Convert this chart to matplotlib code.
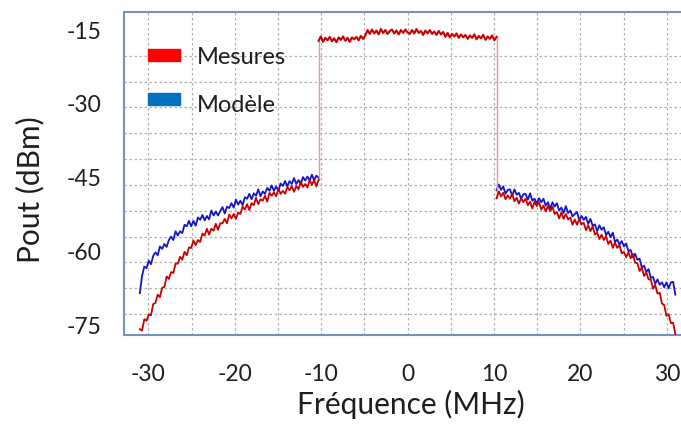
import numpy as np
import matplotlib
matplotlib.use("Agg")
import matplotlib.pyplot as plt
from matplotlib.patches import Rectangle
from matplotlib.ticker import FixedLocator, MultipleLocator

plt.rcParams['font.family'] = ['Lato', 'DejaVu Sans']

# ---------------- data ----------------
freq_left = np.linspace(-31.0, -10.3, 81)   # lower adjacent band (MHz)
freq_band = np.linspace(-10.3, 10.3, 81)    # channel (MHz)
freq_right = np.linspace(10.3, 31.0, 81)    # upper adjacent band (MHz)

mesures_left = [
    -75.8, -76.1, -73.8, -74.1, -72.8, -73.0, -70.7, -70.5, -68.8, -69.3,
    -67.4, -67.2, -65.1, -65.6, -64.2, -64.4, -62.5, -62.5, -61.1, -61.7,
    -60.1, -60.8, -59.2, -59.3, -57.8, -58.7, -57.7, -58.1, -56.4, -56.8,
    -55.4, -56.6, -55.4, -55.8, -54.4, -55.6, -54.3, -54.3, -53.4, -54.3,
    -52.5, -53.3, -52.4, -53.4, -52.1, -52.4, -50.9, -51.5, -50.4, -51.6,
    -50.2, -50.6, -49.1, -50.4, -49.4, -49.7, -48.7, -49.9, -48.1, -48.7,
    -48.0, -48.8, -47.3, -48.3, -47.7, -48.3, -46.9, -47.6, -46.7, -47.9,
    -46.7, -47.4, -45.8, -46.9, -46.3, -47.0, -45.5, -46.5, -45.5, -46.8,
    -45.4]

mesures_band = [
    -17.2, -16.3, -17.4, -16.6, -17.1, -16.4, -17.3, -16.7, -17.5, -16.5,
    -17.0, -16.3, -17.2, -16.6, -17.4, -16.5, -16.9, -16.4, -17.1, -16.2,
    -16.8, -16.1, -15.0, -15.8, -14.9, -15.7, -15.1, -15.9, -14.8, -15.6,
    -15.0, -15.8, -15.2, -14.9, -15.7, -15.1, -15.9, -15.0, -15.6, -14.9,
    -15.5, -15.8, -15.0, -15.7, -14.8, -15.6, -15.2, -16.0, -15.1, -15.7,
    -15.0, -15.8, -15.3, -16.0, -15.2, -15.9, -15.4, -16.4, -15.6, -16.5,
    -15.8, -16.3, -15.7, -16.6, -15.9, -16.5, -16.0, -16.8, -16.1, -16.6,
    -15.9, -16.9, -16.2, -16.7, -16.0, -17.0, -16.3, -16.8, -16.1, -17.1,
    -16.4]

mesures_right = [
    -49.2, -47.8, -48.8, -48.1, -49.4, -48.6, -49.3, -48.3, -49.8, -49.1,
    -50.3, -49.2, -50.0, -49.3, -50.6, -49.9, -51.3, -49.9, -50.8, -50.0,
    -51.5, -50.7, -51.9, -50.8, -51.8, -50.9, -52.4, -52.0, -53.3, -52.1,
    -53.4, -52.4, -53.5, -53.1, -54.6, -53.5, -54.6, -53.4, -54.5, -54.2,
    -55.7, -54.7, -55.9, -54.9, -56.6, -56.2, -57.5, -56.6, -57.7, -56.9,
    -58.5, -57.8, -59.3, -58.2, -59.3, -58.7, -60.4, -60.1, -61.2, -60.2,
    -61.4, -60.5, -62.3, -62.4, -64.0, -63.3, -65.0, -64.3, -65.7, -65.7,
    -67.6, -66.8, -68.6, -68.4, -70.6, -70.9, -73.1, -72.8, -74.6, -74.5,
    -76.8]

modele_left = [
    -68.5, -65.0, -63.1, -63.4, -61.9, -62.6, -60.9, -60.2, -60.8, -59.0,
    -59.5, -58.5, -59.1, -57.7, -57.0, -57.7, -55.9, -56.8, -55.9, -56.3,
    -54.6, -54.9, -53.8, -54.9, -53.8, -54.8, -53.1, -53.6, -52.6, -53.7,
    -52.8, -53.5, -51.7, -52.7, -51.9, -52.7, -51.8, -51.0, -52.3, -50.9,
    -51.2, -50.2, -51.1, -49.5, -50.5, -49.7, -50.6, -49.0, -49.3, -48.3,
    -49.4, -48.2, -48.7, -47.4, -48.8, -47.8, -48.3, -47.1, -47.7, -46.6,
    -47.7, -46.8, -47.7, -46.2, -46.7, -45.7, -46.8, -45.7, -46.3, -45.1,
    -46.3, -45.5, -46.3, -44.9, -45.6, -44.8, -45.6, -44.4, -45.6, -44.6,
    -45.0]

modele_right = [
    -47.6, -46.4, -47.5, -46.8, -48.3, -47.5, -47.4, -48.7, -47.4, -48.5,
    -48.1, -49.3, -48.4, -48.3, -49.5, -48.2, -49.7, -49.3, -50.3, -49.2,
    -50.0, -49.3, -50.7, -50.0, -51.4, -50.0, -50.9, -50.2, -51.7, -51.1,
    -52.2, -50.8, -52.2, -51.7, -52.9, -52.4, -52.0, -53.7, -52.8, -53.6,
    -53.0, -54.4, -53.4, -54.8, -54.5, -55.9, -54.7, -55.6, -55.1, -56.7,
    -56.0, -57.1, -56.2, -58.1, -57.6, -58.6, -57.9, -59.0, -58.4, -60.0,
    -59.7, -61.2, -60.5, -61.7, -61.5, -63.3, -62.9, -64.2, -63.6, -65.4,
    -65.2, -66.6, -65.7, -66.8, -66.3, -67.3, -66.3, -67.5, -66.3, -66.2,
    -68.8]

series_labels = ["Mesures", "Modèle"]
x_ticks = [-30, -20, -10, 0, 10, 20, 30]
y_ticks = [-15, -30, -45, -60, -75]

# ---------------- figure ----------------
W, H = 681, 425
fig = plt.figure(figsize=(W / 100, H / 100), dpi=100)
ax = fig.add_axes([124 / W, 1 - 335 / H, (684 - 124) / W, (335 - 12) / H])

red = '#c80000'
blue = '#1414c8'
txt = '#1e1e1e'

ax.plot(freq_left, modele_left, color=blue, lw=1.3, zorder=3)
ax.plot(freq_right, modele_right, color=blue, lw=1.3, zorder=3)

# step transitions (thin, light)
ax.plot([freq_left[-1], freq_band[0]], [mesures_left[-1], mesures_band[0]],
        color='#e59a9a', lw=1.0, zorder=3)
ax.plot([freq_band[-1], freq_right[0]], [mesures_band[-1], mesures_right[0]],
        color='#e59a9a', lw=1.0, zorder=3)

ax.plot(freq_left, mesures_left, color=red, lw=1.3, zorder=4)
ax.plot(freq_band, mesures_band, color=red, lw=1.5, zorder=4)
ax.plot(freq_right, mesures_right, color=red, lw=1.3, zorder=4)

ax.set_xlim(-32.83, 32.0)
ax.set_ylim(-77.0, -11.34)

ax.set_xticks(x_ticks)
ax.set_xticklabels([str(t) for t in x_ticks])
ax.set_yticks(y_ticks)
ax.set_yticklabels([str(t) for t in y_ticks])
ax.tick_params(axis='both', which='both', length=0, labelsize=16.5, colors=txt)
ax.tick_params(axis='x', pad=21)
ax.tick_params(axis='y', pad=16)

# grid
ax.xaxis.set_minor_locator(MultipleLocator(5))
ax.yaxis.set_minor_locator(FixedLocator(-15 - 5.25 * np.arange(12)))
gstyle = dict(color='#b0b0b0', lw=0.9, linestyle=(0, (2, 2)))
ax.grid(False, axis='y', which='major')
ax.grid(True, axis='x', which='both', **gstyle)
ax.grid(True, axis='y', which='minor', **gstyle)
ax.set_axisbelow(True)

for s in ax.spines.values():
    s.set_color('#7393bd')
    s.set_linewidth(1.5)

ax.set_xlabel('Fréquence (MHz)', fontsize=21.5, color=txt)
ax.xaxis.set_label_coords(411 / W, 1 - 390 / H, transform=fig.transFigure)
ax.set_ylabel('Pout (dBm)', fontsize=21.5, color=txt)
ax.yaxis.set_label_coords(44 / W, 1 - 190 / H, transform=fig.transFigure)

# legend built manually to match placement
def px_rect(x0, y0, x1, y1, color):
    fig.patches.append(Rectangle((x0 / W, 1 - y1 / H), (x1 - x0) / W, (y1 - y0) / H,
                                 transform=fig.transFigure, color=color, zorder=10))

px_rect(148, 49, 180, 61, '#ff0000')
px_rect(148, 93, 180, 105, '#0070c0')
fig.text(197 / W, 1 - 57 / H, series_labels[0], fontsize=17, va='center', ha='left', color=txt)
fig.text(197 / W, 1 - 106 / H, series_labels[1], fontsize=17, va='center', ha='left', color=txt)

fig.savefig('out.png', dpi=100)
